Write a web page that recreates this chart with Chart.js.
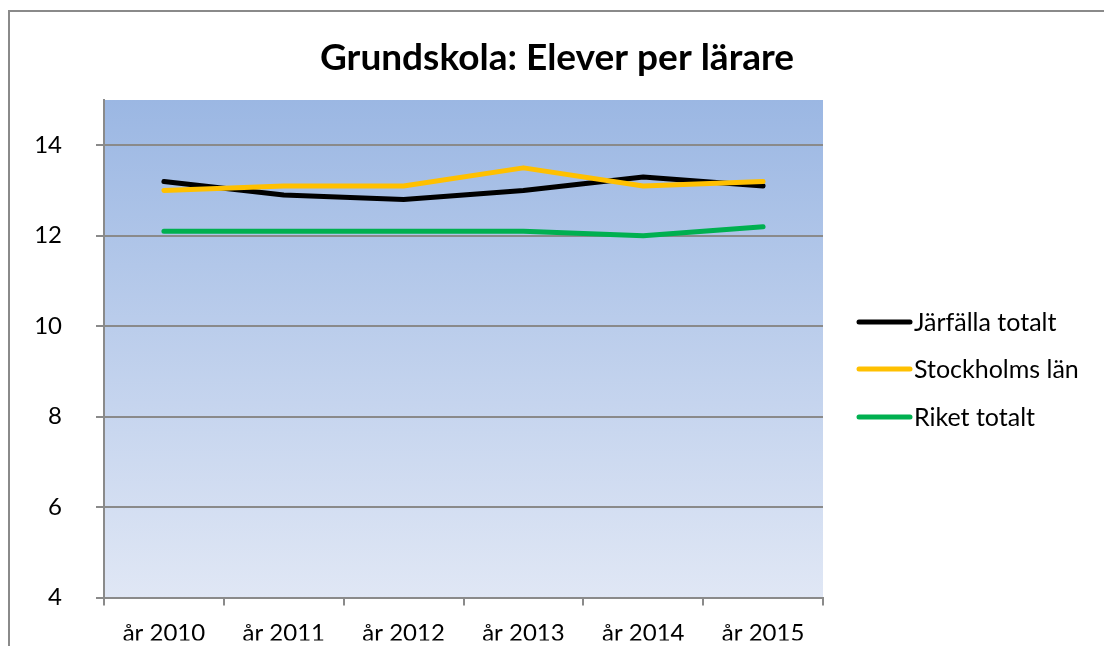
<!DOCTYPE html>
<html>
<head>
<meta charset="utf-8">
<script src="https://cdn.jsdelivr.net/npm/chart.js@4"></script>
<style>
  body { margin: 0; background: #fff; }
  #wrap { width: 1104px; height: 646px; }
</style>
</head>
<body>
<div id="wrap"><canvas id="myChart" width="1104" height="646"></canvas></div>
<script>
const years = ["år 2010", "år 2011", "år 2012", "år 2013", "år 2014", "år 2015"];
const jarfalla = [13.2, 12.9, 12.8, 13.0, 13.3, 13.1];
const stockholm = [13.0, 13.1, 13.1, 13.5, 13.1, 13.2];
const riket = [12.1, 12.1, 12.1, 12.1, 12.0, 12.2];
const yTicks = [4, 6, 8, 10, 12, 14];
const titel = "Grundskola: Elever per lärare";

const font = "Lato";

// bakgrund i ritytan + ram runt diagrammet
const bakgrund = {
    id: "bakgrund",
    beforeDraw(chart) {
        const { ctx, chartArea: a } = chart;
        ctx.save();
        ctx.strokeStyle = "#8a8a8a";
        ctx.lineWidth = 2;
        ctx.beginPath();
        ctx.moveTo(1104, 11);
        ctx.lineTo(9, 11);
        ctx.lineTo(9, 646);
        ctx.stroke();
        const g = ctx.createLinearGradient(0, a.top, 0, a.bottom);
        g.addColorStop(0, "#9bb7e3");
        g.addColorStop(1, "#e0e7f5");
        ctx.fillStyle = g;
        ctx.fillRect(a.left, a.top, a.right - a.left, a.bottom - a.top);
        ctx.restore();
    }
};

// titel och förklaring ritas för hand
const texter = {
    id: "texter",
    afterDraw(chart) {
        const ctx = chart.ctx;
        ctx.save();
        ctx.fillStyle = "#000";
        ctx.font = "bold 37px " + font;
        ctx.textAlign = "center";
        ctx.textBaseline = "middle";
        ctx.fillText(titel, 557, 58);

        ctx.font = "25px " + font;
        ctx.textAlign = "left";
        const ys = [322, 369, 417];
        chart.data.datasets.forEach((ds, i) => {
            ctx.strokeStyle = ds.borderColor;
            ctx.lineWidth = 5;
            ctx.lineCap = "round";
            ctx.beginPath();
            ctx.moveTo(859, ys[i]);
            ctx.lineTo(910, ys[i]);
            ctx.stroke();
            ctx.fillText(ds.label, 914, ys[i] + 1);
        });
        ctx.restore();
    }
};

const config = {
    type: "line",
    data: {
        labels: years,
        datasets: [
            { label: "Järfälla totalt", data: jarfalla, borderColor: "#000000", order: 3 },
            { label: "Stockholms län", data: stockholm, borderColor: "#ffc000", order: 2 },
            { label: "Riket totalt", data: riket, borderColor: "#00b050", order: 1 }
        ]
    },
    options: {
        responsive: false,
        animation: false,
        layout: { padding: { left: 10, right: 281, top: 100, bottom: 0 } },
        elements: {
            line: { borderWidth: 5, borderCapStyle: "round", borderJoinStyle: "round", tension: 0 },
            point: { radius: 0 }
        },
        plugins: {
            legend: { display: false },
            title: { display: false },
            tooltip: { enabled: false }
        },
        scales: {
            x: {
                offset: true,
                grid: { offset: true, drawOnChartArea: false, drawTicks: true, tickLength: 8, color: "#8a8a8a", lineWidth: 2 },
                border: { color: "#8a8a8a", width: 2 },
                ticks: { color: "#000", font: { family: font, size: 24 }, padding: 13, maxRotation: 0 },
                afterFit(s) { s.height = 43; }
            },
            y: {
                min: 4,
                max: 15,
                afterBuildTicks(s) { s.ticks = yTicks.map(v => ({ value: v })); },
                grid: { color: "#8a8a8a", lineWidth: 2, tickLength: 8 },
                border: { color: "#8a8a8a", width: 2 },
                ticks: { color: "#000", font: { family: font, size: 24 }, padding: 34 },
                afterFit(s) { s.width = 94; }
            }
        }
    },
    plugins: [bakgrund, texter]
};

const chart = new Chart(document.getElementById("myChart"), config);
</script>
</body>
</html>
